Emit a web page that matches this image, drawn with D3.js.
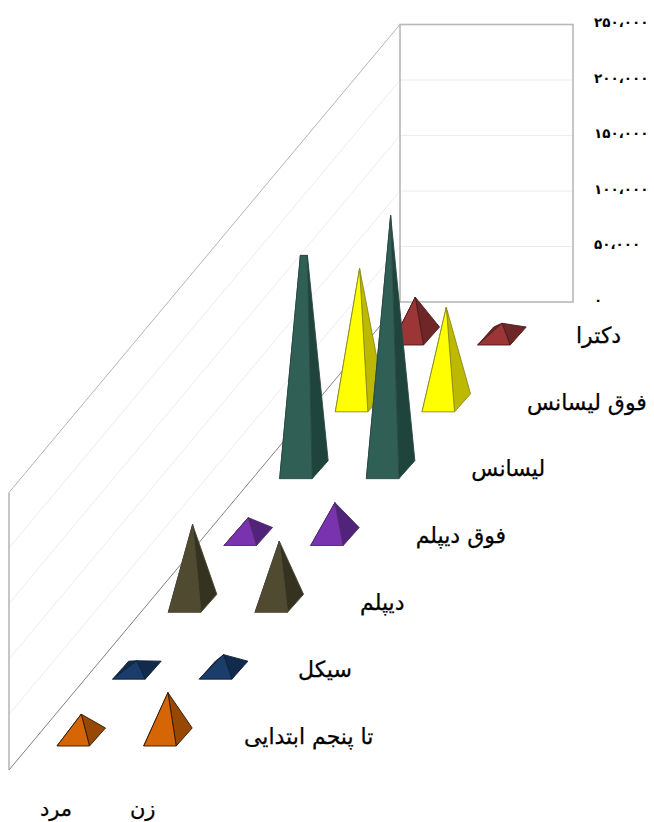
<!DOCTYPE html>
<html><head><meta charset="utf-8">
<script src="https://cdn.jsdelivr.net/npm/d3@7/dist/d3.min.js"></script>
<style>html,body{margin:0;padding:0;background:#fff}svg{display:block}</style>
</head><body><div id="c"></div>
<script>
const categories = ["تا پنجم ابتدایی","سیکل","دیپلم","فوق دیپلم","لیسانس","فوق لیسانس","دکترا"];
const seriesNames = ["مرد","زن"];
const mard = [20600,8500,71000,17000,193000,121000,35000];
const zan  = [40000,14000,56000,30500,229000,86000,11500];
const yTicks = [0,50000,100000,150000,200000,250000];
const yTickLabels = ["۰","۵۰،۰۰۰","۱۰۰،۰۰۰","۱۵۰،۰۰۰","۲۰۰،۰۰۰","۲۵۰،۰۰۰"];
const frontColors = ["#D66505","#1A3D6B","#4F4A30","#7A33AE","#2F5F55","#FFFF00","#9C3636"];
const sideColors  = ["#974804","#122B4C","#363220","#52237A","#1F443C","#BDB900","#6E2626"];
const strokeColors = ["#2e1602","#0d1f38","#4a4636","#4a2a66","#2a4a44","#8a8a20","#4a1a1a"];
const values = [mard, zan];

const W=654,H=822;
const svg=d3.select("#c").append("svg").attr("width",W).attr("height",H);
const font="'DejaVu Sans',sans-serif";

// projection scales
const yVal=d3.scaleLinear().domain([0,250000]).range([302,24.5]);   // on the back wall
const h=v=>yVal(0)-yVal(v);
const depthIdx=d3.scaleLinear().domain([0,7]);
const depthX=depthIdx.copy().range([9,400]);
const depthY=depthIdx.copy().range([770,302]);
const catIdx=categories.map((_,i)=>i);
const baseX=d3.scaleLinear().domain([0,6]).range([57,391]);
const baseY=d3.scaleLinear().domain([0,6]).range([746,345]);
const labelX=d3.scaleLinear().domain([0,1,2,5,6]).range([244,298,360,527,576]);
const seriesX=d3.scalePoint().domain(seriesNames).range([0,86.7]);
const baseW=32.5, depthDX=16, depthDY=-18;

// walls
const g=svg.append("g");
const wallRight=573;
yTicks.slice(1,-1).forEach(t=>{
  const dy=h(t);
  g.append("line").attr("x1",depthX(0)).attr("y1",depthY(0)-dy).attr("x2",depthX(7)).attr("y2",depthY(7)-dy)
    .attr("stroke","#ececec").attr("stroke-width",1);
  g.append("line").attr("x1",depthX(7)).attr("y1",yVal(t)).attr("x2",wallRight).attr("y2",yVal(t))
    .attr("stroke","#ececec").attr("stroke-width",1);
});
const wallH=h(250000);
g.append("line").attr("x1",depthX(0)).attr("y1",depthY(0)-wallH).attr("x2",depthX(7)).attr("y2",depthY(7)-wallH).attr("stroke","#b4b4b4");
g.append("line").attr("x1",depthX(0)).attr("y1",depthY(0)).attr("x2",depthX(7)).attr("y2",depthY(7)).attr("stroke","#808080");
g.append("line").attr("x1",depthX(0)).attr("y1",depthY(0)).attr("x2",depthX(0)).attr("y2",depthY(0)-wallH).attr("stroke","#a0a0a0").attr("stroke-width",1.2);
g.append("rect").attr("x",depthX(7)).attr("y",yVal(250000)).attr("width",wallRight-depthX(7)).attr("height",yVal(0)-yVal(250000))
  .attr("fill","none").attr("stroke","#b8b8b8").attr("stroke-width",1.6);

// pyramids, back row first
const polyLine=d3.line();
d3.reverse(catIdx).forEach(c=>{
  seriesNames.forEach((s,si)=>{
    const v=values[si][c];
    const x0=baseX(c)+seriesX(s), y0=baseY(c);
    const fl=[x0,y0],fr=[x0+baseW,y0],br=[x0+baseW+depthDX,y0+depthDY],bl=[x0+depthDX,y0+depthDY];
    const apexX=x0+baseW/2+depthDX/2, apexY=y0+depthDY/2-h(v);
    // the men's tallest bar is clipped flat at the top in the reference
    const flat=(si===0&&c===4)?3.5:0;
    const tl=[apexX-flat,apexY], tr=[apexX+flat,apexY];
    const pg=svg.append("g").attr("stroke",strokeColors[c]).attr("stroke-width",0.9).attr("stroke-linejoin","round");
    pg.append("path").attr("d",polyLine([fl,bl,tl])+"Z").attr("fill",sideColors[c]);
    pg.append("path").attr("d",polyLine([fr,br,tr,tl])+"Z").attr("fill",sideColors[c]);
    pg.append("path").attr("d",polyLine([fl,fr,tr,tl])+"Z").attr("fill",frontColors[c]);
  });
});

// value axis
const axis=d3.axisRight(yVal).tickValues(yTicks).tickSize(0).tickPadding(0)
  .tickFormat((d,i)=>yTickLabels[i]);
const axG=svg.append("g").attr("transform","translate(594,-2)").call(axis);
axG.select(".domain").remove();
axG.selectAll("text").attr("font-family",font).attr("font-size",13.5).attr("font-weight","bold").attr("fill","#000").attr("direction","ltr");

// category labels
svg.append("g").selectAll("text").data(categories).join("text")
  .attr("x",(d,i)=>labelX(i))
  .attr("y",(d,i)=>baseY(i)-10)
  .attr("dy","0.35em")
  .attr("direction","rtl").attr("text-anchor","end")
  .attr("font-family",font).attr("font-size",22).attr("fill","#000")
  .attr("stroke","#000").attr("stroke-width",0.25)
  .text(d=>d);

// series labels
svg.append("g").selectAll("text").data(seriesNames).join("text")
  .attr("x",d=>56+seriesX(d)).attr("y",809).attr("dy","0.35em")
  .attr("text-anchor","middle").attr("direction","rtl")
  .attr("font-family",font).attr("font-size",21).attr("fill","#000")
  .attr("stroke","#000").attr("stroke-width",0.25)
  .text(d=>d);
</script></body></html>
